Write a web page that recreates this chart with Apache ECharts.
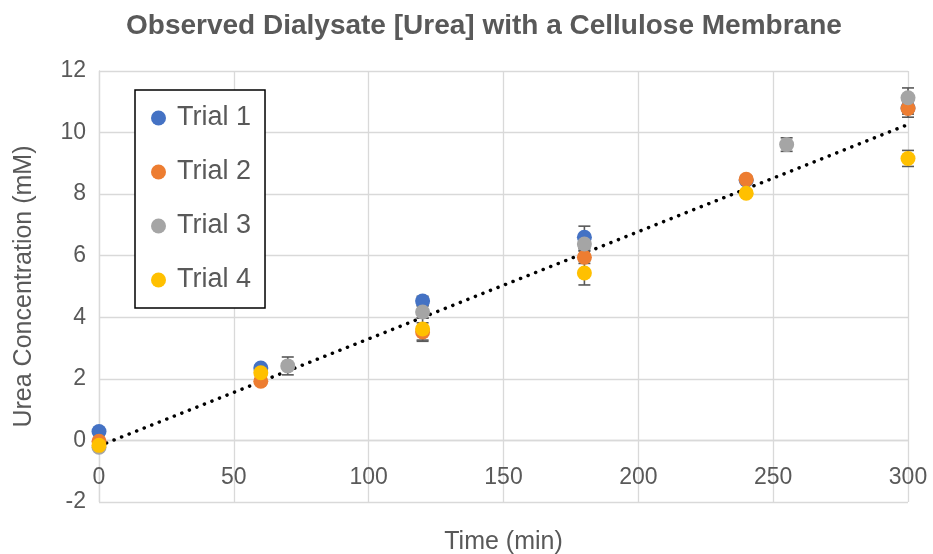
<!DOCTYPE html>
<html>
<head>
<meta charset="utf-8">
<script src="https://cdn.jsdelivr.net/npm/echarts@6/dist/echarts.min.js"></script>
<style>html,body{margin:0;padding:0;background:#fff;}#c{width:933px;height:554px;}</style>
</head>
<body>
<div id="c"></div>
<script>
// ---- data ----
const seriesNames = ['Trial 1', 'Trial 2', 'Trial 3', 'Trial 4'];
const times1 = [0, 60, 120, 180, 240, 300];
const trial1 = [0.29, 2.35, 4.53, 6.60, 8.45, 10.80];
const trial1Err = [0.10, 0.10, 0.15, 0.36, 0.10, 0.20];
const times2 = [0, 60, 120, 180, 240, 300];
const trial2 = [-0.03, 1.92, 3.52, 5.95, 8.48, 10.78];
const trial2Err = [0.10, 0.10, 0.30, 0.20, 0.12, 0.28];
const times3 = [0, 70, 120, 180, 255, 300];
const trial3 = [-0.22, 2.42, 4.17, 6.38, 9.61, 11.13];
const trial3Err = [0.10, 0.29, 0.20, 0.20, 0.22, 0.32];
const times4 = [0, 60, 120, 180, 240, 300];
const trial4 = [-0.16, 2.20, 3.62, 5.44, 8.03, 9.16];
const trial4Err = [0.10, 0.10, 0.36, 0.39, 0.10, 0.26];
const trendX = [0, 300];
const trendY = [-0.18, 10.26];
const xTicks = [0, 50, 100, 150, 200, 250, 300];
const yTicks = [-2, 0, 2, 4, 6, 8, 10, 12];

const colors = ['#4472C4', '#ED7D31', '#A5A5A5', '#FFC000'];
const textColor = '#595959';
const FONT = 'Liberation Sans';

const allTimes = [times1, times2, times3, times4];
const allVals = [trial1, trial2, trial3, trial4];
const allErr = [trial1Err, trial2Err, trial3Err, trial4Err];

// plot area geometry
const GRID_TOP = 71, GRID_BOTTOM = 52, CH = 554;
const plotH = CH - GRID_TOP - GRID_BOTTOM;
const yMin = yTicks[0], yMax = yTicks[yTicks.length - 1];
// shift x axis (labels + line) up to the y = 0 line, like Excel's "crosses at 0"
const xAxisOffset = -plotH * (0 - yMin) / (yMax - yMin);

function errRender(params, api) {
  const x = api.value(0), y = api.value(1), e = api.value(2);
  const lo = api.coord([x, y - e]);
  const hi = api.coord([x, y + e]);
  const hw = 6;
  const style = { stroke: '#595959', lineWidth: 1.6 };
  return {
    type: 'group',
    children: [
      { type: 'line', shape: { x1: lo[0], y1: lo[1], x2: hi[0], y2: hi[1] }, style },
      { type: 'line', shape: { x1: lo[0] - hw, y1: lo[1], x2: lo[0] + hw, y2: lo[1] }, style },
      { type: 'line', shape: { x1: hi[0] - hw, y1: hi[1], x2: hi[0] + hw, y2: hi[1] }, style }
    ]
  };
}

const series = [];
// trendline
series.push({
  type: 'line', name: 'trend', silent: true, symbol: 'none', z: 1,
  data: trendX.map((x, i) => [x, trendY[i]]),
  lineStyle: { color: '#000', width: 3.5, type: [0.1, 8], cap: 'round' }
});
for (let s = 0; s < 4; s++) {
  series.push({
    type: 'custom', name: seriesNames[s] + ' err', silent: true, z: 2,
    renderItem: errRender,
    data: allTimes[s].map((t, i) => [t, allVals[s][i], allErr[s][i]])
  });
}
for (let s = 0; s < 4; s++) {
  series.push({
    type: 'scatter', name: seriesNames[s], z: 3 + s,
    symbol: 'circle', symbolSize: 15,
    itemStyle: { color: colors[s], opacity: 1 },
    data: allTimes[s].map((t, i) => [t, allVals[s][i]])
  });
}

const chart = echarts.init(document.getElementById('c'), null, { renderer: 'canvas' });
chart.setOption({
  animation: false,
  color: colors,
  title: {
    text: 'Observed Dialysate [Urea] with a Cellulose Membrane',
    left: 121, top: 7,
    textStyle: { fontFamily: FONT, fontSize: 28, fontWeight: 'bold', color: textColor }
  },
  legend: {
    data: seriesNames,
    orient: 'vertical', left: 135, top: 90,
    padding: [14, 14, 14, 16],
    itemGap: 26, itemWidth: 15, itemHeight: 15, icon: 'circle',
    backgroundColor: '#fff', borderColor: '#000', borderWidth: 1.5,
    textStyle: { fontFamily: FONT, fontSize: 27, color: textColor, lineHeight: 28, padding: [0, 0, 0, 6] },
    z: 10
  },
  grid: { left: 99, right: 25, top: GRID_TOP, bottom: GRID_BOTTOM, containLabel: false, outerBoundsMode: 'none' },
  xAxis: {
    type: 'value', min: xTicks[0], max: xTicks[xTicks.length - 1], interval: xTicks[1] - xTicks[0],
    name: 'Time (min)', nameLocation: 'middle', nameGap: 89,
    nameTextStyle: { fontFamily: FONT, fontSize: 25, color: textColor },
    offset: xAxisOffset,
    axisLine: { show: true, onZero: false, lineStyle: { color: '#d9d9d9', width: 1.3 } },
    axisTick: { show: false },
    axisLabel: { fontFamily: FONT, fontSize: 23, color: textColor, margin: 26 },
    splitLine: { show: true, lineStyle: { color: '#d9d9d9', width: 1.3 } }
  },
  yAxis: {
    type: 'value', min: yMin, max: yMax, interval: yTicks[1] - yTicks[0],
    name: 'Urea Concentration (mM)', nameLocation: 'middle', nameGap: 62,
    nameTextStyle: { fontFamily: FONT, fontSize: 25, color: textColor },
    axisLine: { show: true, onZero: false, lineStyle: { color: '#d9d9d9', width: 1.3 } },
    axisTick: { show: false },
    axisLabel: { fontFamily: FONT, fontSize: 23, color: textColor, margin: 13 },
    splitLine: { show: true, lineStyle: { color: '#d9d9d9', width: 1.3 } }
  },
  series: series
});
</script>
</body>
</html>
